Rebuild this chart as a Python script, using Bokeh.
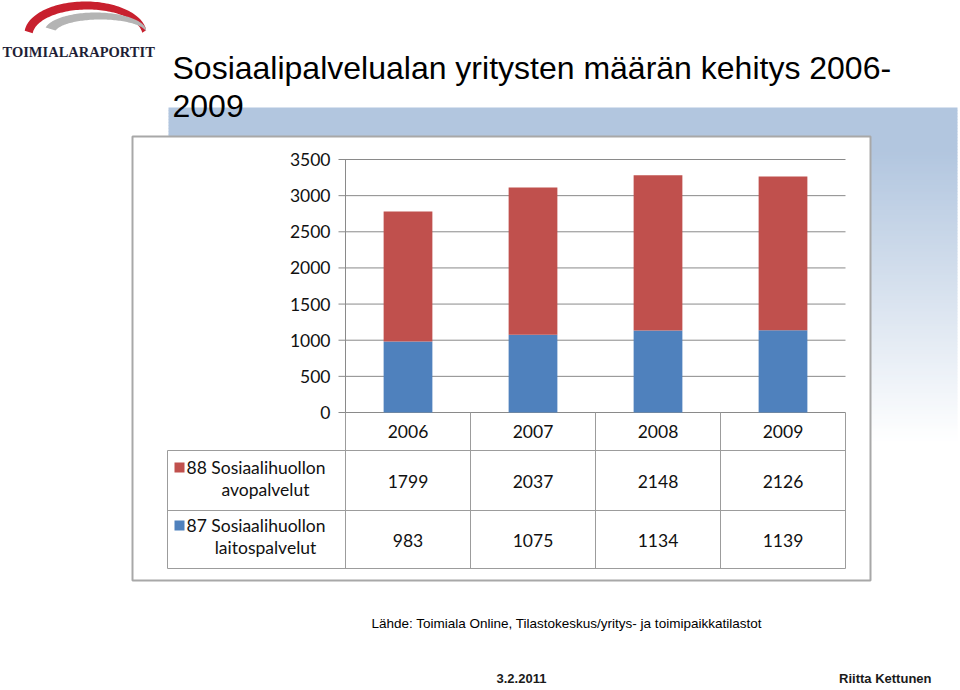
import numpy as np
from bokeh.plotting import figure
from bokeh.models import Range1d, ColumnDataSource
from bokeh.embed import file_html
from bokeh.resources import INLINE
from bokeh.core.properties import value

# ---------------- data ----------------
years = ["2006", "2007", "2008", "2009"]
avopalvelut = [1799, 2037, 2148, 2126]      # 88 Sosiaalihuollon avopalvelut (red, top)
laitospalvelut = [983, 1075, 1134, 1139]    # 87 Sosiaalihuollon laitospalvelut (blue, bottom)
series_avo = ["88 Sosiaalihuollon", "avopalvelut"]
series_laitos = ["87 Sosiaalihuollon", "laitospalvelut"]
y_ticks = [0, 500, 1000, 1500, 2000, 2500, 3000, 3500]
title_lines = ["Sosiaalipalvelualan yritysten määrän kehitys 2006-", "2009"]
source_text = "Lähde: Toimiala Online, Tilastokeskus/yritys- ja toimipaikkatilastot"
footer_date = "3.2.2011"
footer_author = "Riitta Kettunen"
logo_text = "TOIMIALARAPORTIT"

# ---------------- layout (reference pixels) ----------------
W, H = 958, 688
def X(v): return v
def Y(v): return v

PL, PR, PT, PB = 345, 845, 159, 412     # plot area
YMAX = 3500
RED = "#c0504d"
BLUE = "#4f81bd"
GRID = "#8a8a8a"
TLINE = "#9c9c9c"
FONT = value("Lato")
TXT = "#111111"

p = figure(width=W, height=H, x_range=Range1d(0, W), y_range=Range1d(H, 0),
           x_axis_type=None, y_axis_type=None, toolbar_location=None,
           output_backend="svg", min_border=0, outline_line_color=None,
           background_fill_color="white", border_fill_color="white")

n = len(years)
kx = (X(PR) - X(PL)) / n
cx0 = -0.5 - X(PL) / kx
ky = (PB - PT) / YMAX
cy0 = (Y(PB) - H) / ky
p.extra_x_ranges = {"cx": Range1d(cx0, cx0 + W / kx)}
p.extra_y_ranges = {"cy": Range1d(cy0, cy0 + H / ky)}

# ---------------- background band (gradient) ----------------
top_rgb = np.array([178, 198, 223])
g_start, g_end = 150, 440
edges = np.arange(107, g_end + 1, 3)
tops, bots, cols = [], [], []
for a in edges[:-1]:
    f = 0.0 if a < g_start else min(1.0, (a - g_start) / (g_end - g_start))
    c = top_rgb + (255 - top_rgb) * f
    cols.append("#%02x%02x%02x" % tuple(int(round(v)) for v in c))
    tops.append(Y(a))
    bots.append(Y(a + 3.5))
p.quad(left=X(168), right=X(957), top=tops, bottom=bots, fill_color=cols, line_color=None)

# chart box
p.quad(left=X(132), right=X(870), top=Y(136), bottom=Y(580),
       fill_color="white", line_color="#a8a8a8", line_width=2)

# ---------------- logo ----------------
t = np.linspace(np.radians(6), np.radians(175), 80)
ox = 85 + 61 * np.cos(t); oy = 33 - 32 * np.sin(t)
ix = 87 + 55 * np.cos(t[::-1]); iy = 35 - 26 * np.sin(t[::-1])
p.patch(np.concatenate([ox, ix]), np.concatenate([oy, iy]),
        fill_color="#c8202e", line_color=None)
t2 = np.linspace(np.radians(8), np.radians(168), 80)
gx = 95 + 51 * np.cos(t2); gy = 31 - 19 * np.sin(t2)
hx = 100 + 46 * np.cos(t2[::-1]); hy = 33 - 14 * np.sin(t2[::-1])
p.patch(np.concatenate([gx, hx]), np.concatenate([gy, hy]),
        fill_color="#b4b4b4", line_color=None)
p.text(x=[2], y=[51], text=[logo_text], text_font=value("Liberation Serif"),
       text_font_style="bold", text_font_size="14.5px", text_color="#1e1e36",
       text_baseline="alphabetic", text_align="left")

# ---------------- title ----------------
p.text(x=[X(172), X(172)], y=[Y(67), Y(105)], text=title_lines,
       text_font=value("Liberation Sans"), text_font_size="32px",
       text_color="black", text_baseline="alphabetic", text_align="left")

# ---------------- chart ----------------
# gridlines
p.segment(x0=X(338), x1=X(PR), y0=y_ticks, y1=y_ticks, y_range_name="cy",
          line_color=GRID, line_width=1)
# vertical axis line
p.segment(x0=[X(PL)], x1=[X(PL)], y0=[0], y1=[YMAX], y_range_name="cy",
          line_color=GRID, line_width=1)
# tick labels
p.text(x=X(330), y=y_ticks, text=[str(v) for v in y_ticks], y_range_name="cy",
       text_font=FONT, text_font_size="17.5px", text_color=TXT,
       text_align="right", text_baseline="middle")

src = ColumnDataSource(dict(x=list(range(n)), laitos=laitospalvelut, avo=avopalvelut))
p.vbar_stack(["laitos", "avo"], x="x", width=0.39, color=[BLUE, RED], source=src,
             x_range_name="cx", y_range_name="cy", line_color=None)

# ---------------- data table ----------------
bounds = [i - 0.5 for i in range(n + 1)]
p.segment(x0=bounds, x1=bounds, y0=Y(PB), y1=Y(568), x_range_name="cx",
          line_color=TLINE, line_width=1)
p.segment(x0=[X(167)], x1=[X(167)], y0=[Y(450)], y1=[Y(568)],
          line_color=TLINE, line_width=1)
p.segment(x0=X(167), x1=X(PR), y0=[Y(450), Y(510), Y(568)], y1=[Y(450), Y(510), Y(568)],
          line_color=TLINE, line_width=1)

idx = list(range(n))
p.text(x=idx, y=[Y(431)] * n, text=years, x_range_name="cx",
       text_font=FONT, text_font_size="17.5px", text_color=TXT,
       text_align="center", text_baseline="middle")
p.text(x=idx, y=[Y(481)] * n, text=[str(v) for v in avopalvelut], x_range_name="cx",
       text_font=FONT, text_font_size="17.5px", text_color=TXT,
       text_align="center", text_baseline="middle")
p.text(x=idx, y=[Y(540)] * n, text=[str(v) for v in laitospalvelut], x_range_name="cx",
       text_font=FONT, text_font_size="17.5px", text_color=TXT,
       text_align="center", text_baseline="middle")

# legend keys
p.rect(x=[X(179), X(179)], y=[Y(467), Y(525)], width=10, height=10,
       fill_color=[RED, BLUE], line_color=None)
p.text(x=[X(186), X(186)], y=[Y(467), Y(525)], text=[series_avo[0], series_laitos[0]],
       text_font=FONT, text_font_size="17.5px", text_color=TXT,
       text_align="left", text_baseline="middle")
p.text(x=[X(265), X(265)], y=[Y(489), Y(547)], text=[series_avo[1], series_laitos[1]],
       text_font=FONT, text_font_size="17.5px", text_color=TXT,
       text_align="center", text_baseline="middle")

# ---------------- source & footer ----------------
p.text(x=[X(371)], y=[Y(623)], text=[source_text], text_font=value("Liberation Sans"),
       text_font_size="13.5px", text_color="black", text_align="left",
       text_baseline="alphabetic")
p.text(x=[X(496), X(931)], y=[Y(678), Y(678)], text=[footer_date, footer_author],
       text_font=value("Liberation Sans"), text_font_style="bold",
       text_font_size="13px", text_color="#1a1a1a",
       text_align=["left", "right"], text_baseline="alphabetic")

open("out.html", "w").write(file_html(p, INLINE))
